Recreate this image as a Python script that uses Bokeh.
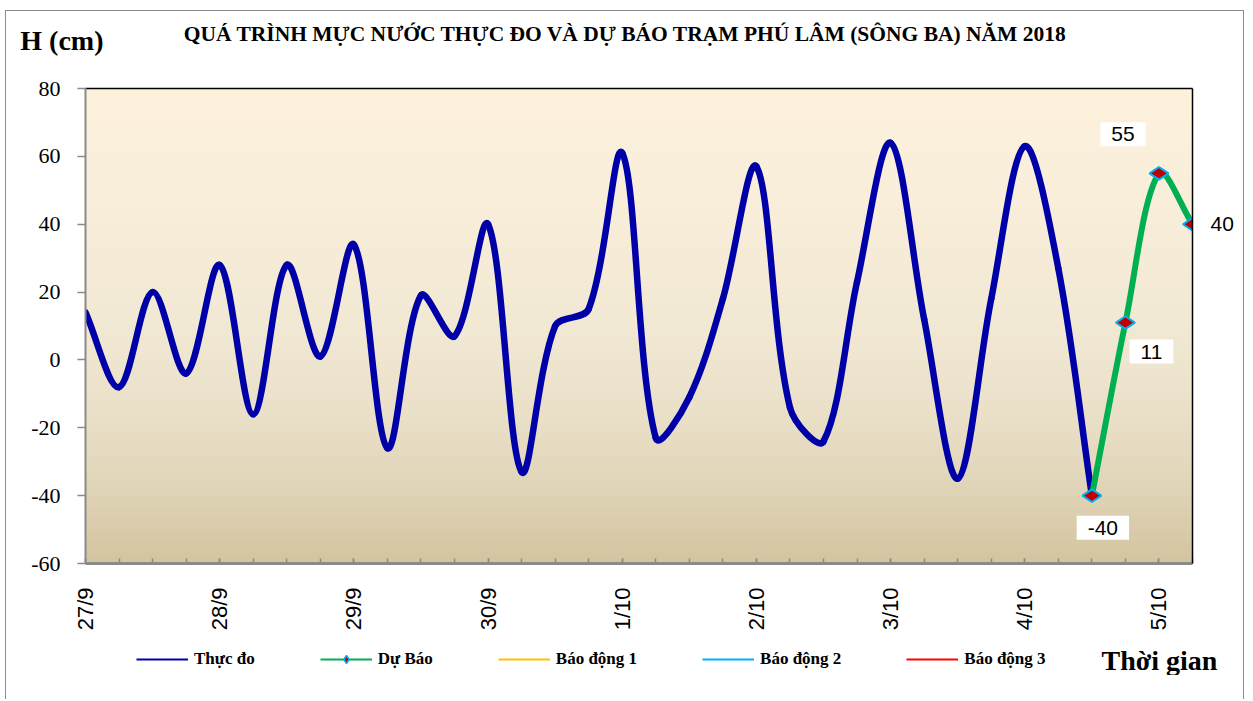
import math
import numpy as np
from bokeh.plotting import figure
from bokeh.layouts import column
from bokeh.models import (Range1d, FixedTicker, LinearAxis, Label, Legend, LegendItem, Spacer)
from bokeh.embed import file_html
from bokeh.resources import INLINE

# ---------------- data ----------------
title_text = "QUÁ TRÌNH MỰC NƯỚC THỰC ĐO VÀ DỰ BÁO TRẠM PHÚ LÂM (SÔNG BA) NĂM 2018"
y_title = "H (cm)"
x_title = "Thời gian"
day_labels = ["27/9", "28/9", "29/9", "30/9", "1/10", "2/10", "3/10", "4/10", "5/10"]
steps_per_day = 4          # 6-hourly observations
measured = [14, -8, 20, -4, 28, -16, 28, 1, 34, -26, 19, 7, 40, -33, 10, 15,
            61, -23, -11, 18, 57, -14, -24, 23, 64, 12, -35, 18, 63, 27, -40]
forecast = [-40, 11, 55, 40]
forecast_start = 30
y_ticks = [-60, -40, -20, 0, 20, 40, 60, 80]
legend_labels = ["Thực đo", "Dự Báo", "Báo động 1", "Báo động 2", "Báo động 3"]

# ---------------- styles ----------------
BLUE = "#0000A8"
GREEN = "#00B050"
ALARM1 = "#FFC000"
ALARM2 = "#00B0F0"
ALARM3 = "#FF0000"
MARK_FILL = "#C00000"
MARK_LINE = "#00B0F0"
GRAY = "#8A8A8A"
SERIF = "Liberation Serif"
SANS = "Liberation Sans"

W = 1237                      # content width (inside the outer border)
H_HEAD, H_MAIN, H_FOOT, H_PAD = 58, 576, 30, 24
ML, MR, MT, MB = 79, 51, 19, 82
FW = W - ML - MR
FH = H_MAIN - MT - MB

n_steps = len(measured) + len(forecast) - 2
y_min, y_max = y_ticks[0], y_ticks[-1]


def blank_axis(label="", standoff=0, size="26px"):
    ax = LinearAxis(ticker=FixedTicker(ticks=[], minor_ticks=[]))
    ax.axis_line_color = None
    ax.major_tick_line_color = None
    ax.minor_tick_line_color = None
    ax.major_label_text_font_size = "0px"
    ax.major_label_standoff = 0
    ax.major_tick_in = 0
    ax.major_tick_out = 0
    ax.minor_tick_in = 0
    ax.minor_tick_out = 0
    if label:
        ax.axis_label = label
        ax.axis_label_orientation = "horizontal"
        ax.axis_label_standoff = standoff
        ax.axis_label_text_font = SERIF
        ax.axis_label_text_font_style = "bold"
        ax.axis_label_text_font_size = size
        ax.axis_label_text_color = "black"
    return ax


# ================= header =================
head = figure(width=W, height=H_HEAD, output_backend="svg", toolbar_location=None,
              x_range=Range1d(0, 1), y_range=Range1d(0, 1),
              x_axis_type=None, y_axis_type=None, min_border=0)
head.outline_line_color = None
head.add_layout(Label(x=540, y=36, x_units="screen", y_units="screen", text=title_text,
                      text_align="center", text_baseline="middle", text_font=SERIF,
                      text_font_style="bold", text_font_size="21.5px", text_color="black"))
head.add_layout(blank_axis(y_title, standoff=-18, size="28px"), "left")

# ================= main chart =================
p = figure(width=W, height=H_MAIN, output_backend="svg", toolbar_location=None,
           x_range=Range1d(0, n_steps), y_range=Range1d(y_min, y_max),
           min_border_left=ML, min_border_right=MR, min_border_top=MT,
           min_border_bottom=MB, x_axis_type=None, y_axis_type=None)
p.outline_line_color = None
p.background_fill_color = "#F3EAD6"

# gradient background for plot area
stops_pos = [0.0, 0.15, 0.3, 0.5, 0.75, 1.0]
stops_col = [(0xD3, 0xC5, 0xA0), (0xE0, 0xD4, 0xB7), (0xEA, 0xE0, 0xC8),
             (0xF2, 0xE9, 0xD5), (0xF8, 0xEE, 0xDA), (0xFE, 0xF2, 0xDC)]
N = 240
t = np.linspace(0, 1, N)
img = np.empty((N, 1), dtype=np.uint32)
view = img.view(dtype=np.uint8).reshape((N, 1, 4))
for k in range(3):
    view[:, 0, k] = np.interp(t, stops_pos, [c[k] for c in stops_col]).astype(np.uint8)
view[:, 0, 3] = 255
p.image_rgba(image=[img], x=0, y=y_min, dw=n_steps, dh=y_max - y_min)

# smoothed line (Bezier segments, tangents weighted by segment length in pixels)
SX = FW / n_steps
SY = FH / (y_max - y_min)


def smooth_segments(xs, ys):
    n = len(xs)
    P = [(x * SX, y * SY) for x, y in zip(xs, ys)]
    cin, cout = [], []
    for i in range(n):
        pm = P[i - 1] if i > 0 else P[i]
        pp = P[i + 1] if i + 1 < n else P[i]
        d1 = math.dist(pm, P[i])
        d2 = math.dist(P[i], pp)
        tx, ty = pp[0] - pm[0], pp[1] - pm[1]
        s = d1 + d2 if d1 + d2 > 0 else 1
        cout.append((P[i][0] + tx * d2 / s / 3, P[i][1] + ty * d2 / s / 3))
        cin.append((P[i][0] - tx * d1 / s / 3, P[i][1] - ty * d1 / s / 3))
    out = {k: [] for k in ("x0", "y0", "x1", "y1", "cx0", "cy0", "cx1", "cy1")}
    for i in range(n - 1):
        out["x0"].append(xs[i]); out["y0"].append(ys[i])
        out["x1"].append(xs[i + 1]); out["y1"].append(ys[i + 1])
        out["cx0"].append(cout[i][0] / SX); out["cy0"].append(cout[i][1] / SY)
        out["cx1"].append(cin[i + 1][0] / SX); out["cy1"].append(cin[i + 1][1] / SY)
    return out


mx = list(range(len(measured)))
fx = [forecast_start + i for i in range(len(forecast))]

p.bezier(**smooth_segments(mx, measured), line_color=BLUE, line_width=6.5,
         line_cap="round", line_join="round")
p.bezier(**smooth_segments(fx, forecast), line_color=GREEN, line_width=6,
         line_cap="round", line_join="round")
p.scatter(fx, forecast, marker="diamond", angle=math.pi / 2, size=19,
          fill_color=MARK_FILL, line_color=MARK_LINE, line_width=2)

# ---------------- axes ----------------
yaxis = LinearAxis(ticker=FixedTicker(ticks=y_ticks, minor_ticks=[]))
yaxis.major_label_overrides = {v: str(v) for v in y_ticks}
yaxis.axis_line_color = GRAY
yaxis.axis_line_width = 2
yaxis.major_tick_line_color = GRAY
yaxis.major_tick_line_width = 1.5
yaxis.major_tick_out = 8
yaxis.major_tick_in = 0
yaxis.major_label_standoff = 17
yaxis.major_label_text_font = SERIF
yaxis.major_label_text_font_size = "22px"
yaxis.major_label_text_color = "black"
p.add_layout(yaxis, "left")

major_x = [i * steps_per_day for i in range(len(day_labels))]
xaxis = LinearAxis(ticker=FixedTicker(ticks=major_x, minor_ticks=list(range(n_steps + 1))))
xaxis.major_label_overrides = {t_: lab for t_, lab in zip(major_x, day_labels)}
xaxis.major_label_orientation = math.pi / 2
xaxis.axis_line_color = GRAY
xaxis.axis_line_width = 3
xaxis.major_tick_line_color = GRAY
xaxis.minor_tick_line_color = GRAY
xaxis.major_tick_line_width = 1.5
xaxis.minor_tick_line_width = 1.5
xaxis.major_tick_in = 5
xaxis.major_tick_out = 0
xaxis.minor_tick_in = 5
xaxis.minor_tick_out = 0
xaxis.major_label_standoff = 24
xaxis.major_label_text_font = SANS
xaxis.major_label_text_font_size = "22px"
xaxis.major_label_text_color = "black"
p.add_layout(xaxis, "below")

top_ax = LinearAxis(ticker=FixedTicker(ticks=[]))
top_ax.axis_line_color = "black"
top_ax.axis_line_width = 1.5
top_ax.major_tick_line_color = None
top_ax.minor_tick_line_color = None
top_ax.major_label_text_font_size = "0px"
top_ax.major_label_standoff = 0
p.add_layout(top_ax, "above")

# right border; carries the data label of the last forecast point (outside the plot area)
right_ax = LinearAxis(ticker=FixedTicker(ticks=[forecast[-1]], minor_ticks=[]))
right_ax.major_label_overrides = {forecast[-1]: str(forecast[-1])}
right_ax.axis_line_color = "black"
right_ax.axis_line_width = 1.5
right_ax.major_tick_line_color = None
right_ax.minor_tick_line_color = None
right_ax.major_label_standoff = 12
right_ax.major_label_text_font = SANS
right_ax.major_label_text_font_size = "21px"
right_ax.major_label_text_color = "black"
p.add_layout(right_ax, "right")

# ---------------- data labels (inside plot area) ----------------
label_offsets = [(11, -32), (26, -29), (-36, 39)]
for xv, yv, (dx, dy) in zip(fx, forecast, label_offsets):
    p.add_layout(Label(x=xv, y=yv, x_offset=dx, y_offset=dy, text=str(yv),
                       text_align="center", text_baseline="middle",
                       text_font=SANS, text_font_size="21px", text_color="black",
                       background_fill_color="white", padding=(11, 5)))

# ================= footer (legend + x title) =================
foot = figure(width=W, height=H_FOOT, output_backend="svg", toolbar_location=None,
              x_range=Range1d(0, 1), y_range=Range1d(0, 1),
              x_axis_type=None, y_axis_type=None, min_border=0)
foot.outline_line_color = None
off = [-10, -9]   # legend-only renderers, kept outside the visible range
leg_meas = foot.line(off, off, line_color=BLUE, line_width=2)
leg_fc_line = foot.line(off, off, line_color=GREEN, line_width=2)
leg_fc_mark = foot.scatter(off, off, marker="diamond", angle=math.pi / 2, size=15,
                           fill_color=MARK_FILL, line_color=MARK_LINE, line_width=1.5)
leg_a1 = foot.line(off, off, line_color=ALARM1, line_width=2)
leg_a2 = foot.line(off, off, line_color=ALARM2, line_width=2)
leg_a3 = foot.line(off, off, line_color=ALARM3, line_width=2)
legend = Legend(items=[
    LegendItem(label=legend_labels[0], renderers=[leg_meas]),
    LegendItem(label=legend_labels[1], renderers=[leg_fc_line, leg_fc_mark]),
    LegendItem(label=legend_labels[2], renderers=[leg_a1]),
    LegendItem(label=legend_labels[3], renderers=[leg_a2]),
    LegendItem(label=legend_labels[4], renderers=[leg_a3]),
], orientation="horizontal", location=(51, 6), glyph_width=52, glyph_height=20,
    label_standoff=6, spacing=65, padding=0, margin=0, border_line_color=None,
    background_fill_alpha=0, label_text_font=SERIF, label_text_font_style="bold",
    label_text_font_size="17px", label_text_color="black")
foot.add_layout(legend)
foot.add_layout(blank_axis(x_title, standoff=-91, size="28px"), "right")

pad = Spacer(width=W, height=H_PAD)

layout = column(head, p, foot, pad, spacing=0,
                styles={"margin-left": "5px", "margin-top": "10px",
                        "border-left": "1px solid #8C8C8C",
                        "border-top": "1px solid #8C8C8C",
                        "border-right": "1px solid #8C8C8C"})

open("out.html", "w").write(file_html(layout, INLINE))
